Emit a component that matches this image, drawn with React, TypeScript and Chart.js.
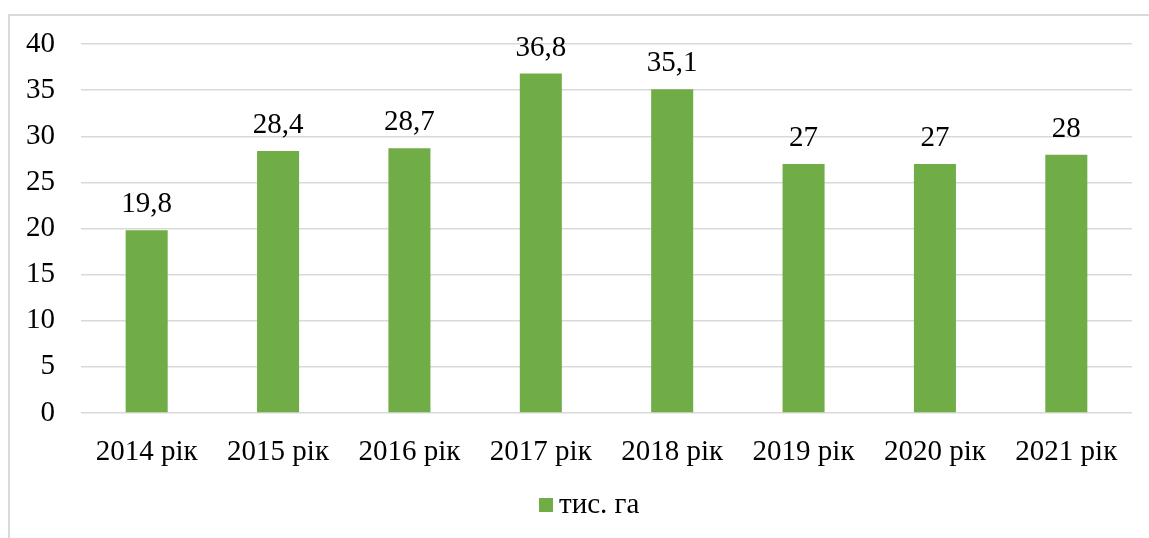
import React, { useEffect, useRef } from "react";
import { Chart, registerables } from "chart.js";

Chart.register(...registerables);

const categories = ["2014 рік", "2015 рік", "2016 рік", "2017 рік", "2018 рік", "2019 рік", "2020 рік", "2021 рік"];
const values = [19.8, 28.4, 28.7, 36.8, 35.1, 27, 27, 28];
const seriesLabel = "тис. га";
const yMin = 0;
const yMax = 40;
const yStep = 5;

const FONT = '"Liberation Serif", "Times New Roman", serif';
const FONT_SIZE = 29;
const BAR_COLOR = "#70ad47";
const GRID_COLOR = "#d9d9d9";

const fmt = (v: number) => String(v).replace(".", ",");

const dataLabelPlugin = {
  id: "dataLabels",
  afterDatasetsDraw(chart: any) {
    const ctx = chart.ctx;
    ctx.save();
    ctx.font = `${FONT_SIZE}px ${FONT}`;
    ctx.fillStyle = "#000";
    ctx.textAlign = "center";
    ctx.textBaseline = "alphabetic";
    chart.data.datasets.forEach((ds: any, di: number) => {
      const meta = chart.getDatasetMeta(di);
      meta.data.forEach((bar: any, i: number) => {
        ctx.fillText(fmt(ds.data[i]), bar.x, bar.y - 18);
      });
    });
    ctx.restore();
  },
};

const legendPlugin = {
  id: "customLegend",
  afterDraw(chart: any) {
    const ctx = chart.ctx;
    const ds = chart.data.datasets[0];
    const boxX = 539;
    const boxY = 498;
    const box = 14;
    ctx.save();
    ctx.fillStyle = ds.backgroundColor;
    ctx.fillRect(boxX, boxY, box, box);
    ctx.font = `${FONT_SIZE}px ${FONT}`;
    ctx.fillStyle = "#000";
    ctx.textAlign = "left";
    ctx.textBaseline = "middle";
    ctx.fillText(ds.label, boxX + box + 6, boxY + box / 2);
    ctx.restore();
  },
};

export default function App() {
  const ref = useRef<HTMLCanvasElement | null>(null);

  useEffect(() => {
    if (!ref.current) return;
    const chart = new Chart(ref.current, {
      type: "bar",
      data: {
        labels: categories,
        datasets: [
          {
            label: seriesLabel,
            data: values,
            backgroundColor: BAR_COLOR,
            borderWidth: 0,
            categoryPercentage: 1,
            barPercentage: 0.32,
          },
        ],
      },
      options: {
        responsive: false,
        animation: false,
        layout: { padding: { left: 0, right: 17, top: 44, bottom: 57 } },
        plugins: {
          legend: { display: false },
          tooltip: { enabled: false },
        },
        scales: {
          x: {
            grid: { display: false },
            border: { display: false },
            ticks: {
              color: "#000",
              font: { family: FONT, size: FONT_SIZE },
              padding: 14,
              maxRotation: 0,
              autoSkip: false,
            },
            afterFit: (s: any) => {
              s.height = 68;
            },
          },
          y: {
            min: yMin,
            max: yMax,
            grid: { color: GRID_COLOR, lineWidth: 1.5, drawTicks: false },
            border: { display: false },
            ticks: {
              stepSize: yStep,
              color: "#000",
              font: { family: FONT, size: FONT_SIZE },
              padding: 26,
            },
            afterFit: (s: any) => {
              s.width = 81;
            },
          },
        },
      },
      plugins: [dataLabelPlugin, legendPlugin],
    });
    return () => chart.destroy();
  }, []);

  return (
    <div
      style={{
        position: "fixed",
        left: 0,
        top: 0,
        width: 1149,
        height: 538,
        overflow: "hidden",
        background: "#fff",
      }}
    >
      <div
        style={{
          position: "absolute",
          left: 8,
          top: 14,
          width: 1250,
          height: 650,
          border: `2px solid ${GRID_COLOR}`,
          boxSizing: "border-box",
        }}
      />
      <canvas
        ref={ref}
        width={1149}
        height={538}
        style={{ position: "absolute", left: 0, top: 0 }}
      />
    </div>
  );
}
